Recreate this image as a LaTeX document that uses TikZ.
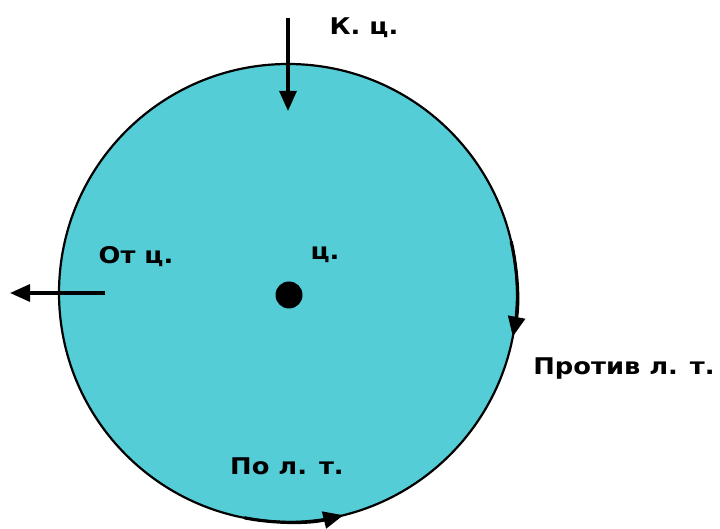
\documentclass[tikz,border=0pt]{standalone}
\usepackage{fontspec}
\setmainfont{DejaVu Sans}
\usepackage{tikz}
\usetikzlibrary{arrows.meta}
\definecolor{disk}{RGB}{85,205,215}

\begin{document}
\begin{tikzpicture}[x=1pt,y=1pt]

    \tikzstyle{every node}=[inner sep=0pt,font=\bfseries\fontsize{23}{26}\selectfont]
    \tikzstyle{force}=[line width=3.2pt,-{Triangle[length=20pt,width=17pt]}]
    \useasboundingbox (0,0) rectangle (720,529);

    \fill[disk,draw=black,line width=2.2pt] (288,236) circle (229);
    \node[circle,fill=black,minimum size=27pt](c) at (289,234){};

    \coordinate(k0) at (288,511);
    \coordinate(k1) at (288,418);
    \coordinate(o0) at (105,236);
    \coordinate(o1) at (10,236);

    \node[xscale=1.12](lk) at (364,501){К. ц.};
    \node[xscale=1.12](lo) at (136,272){От ц.};
    \node[xscale=1.12](lc) at (325,274){ц.};
    \node[xscale=1.12](lp) at (624,160){Против л. т.};
    \node[xscale=1.12](ll) at (287,63){По л. т.};

    % forces
    \draw[force](k0)--(k1);
    \draw[force](o0)--(o1);
    % tangential
    \draw[force] (288,236) ++(13:229) arc (13:-11:229);
    \draw[force] (288,236) ++(-101:229) arc (-101:-76:229);

\end{tikzpicture}
\end{document}
